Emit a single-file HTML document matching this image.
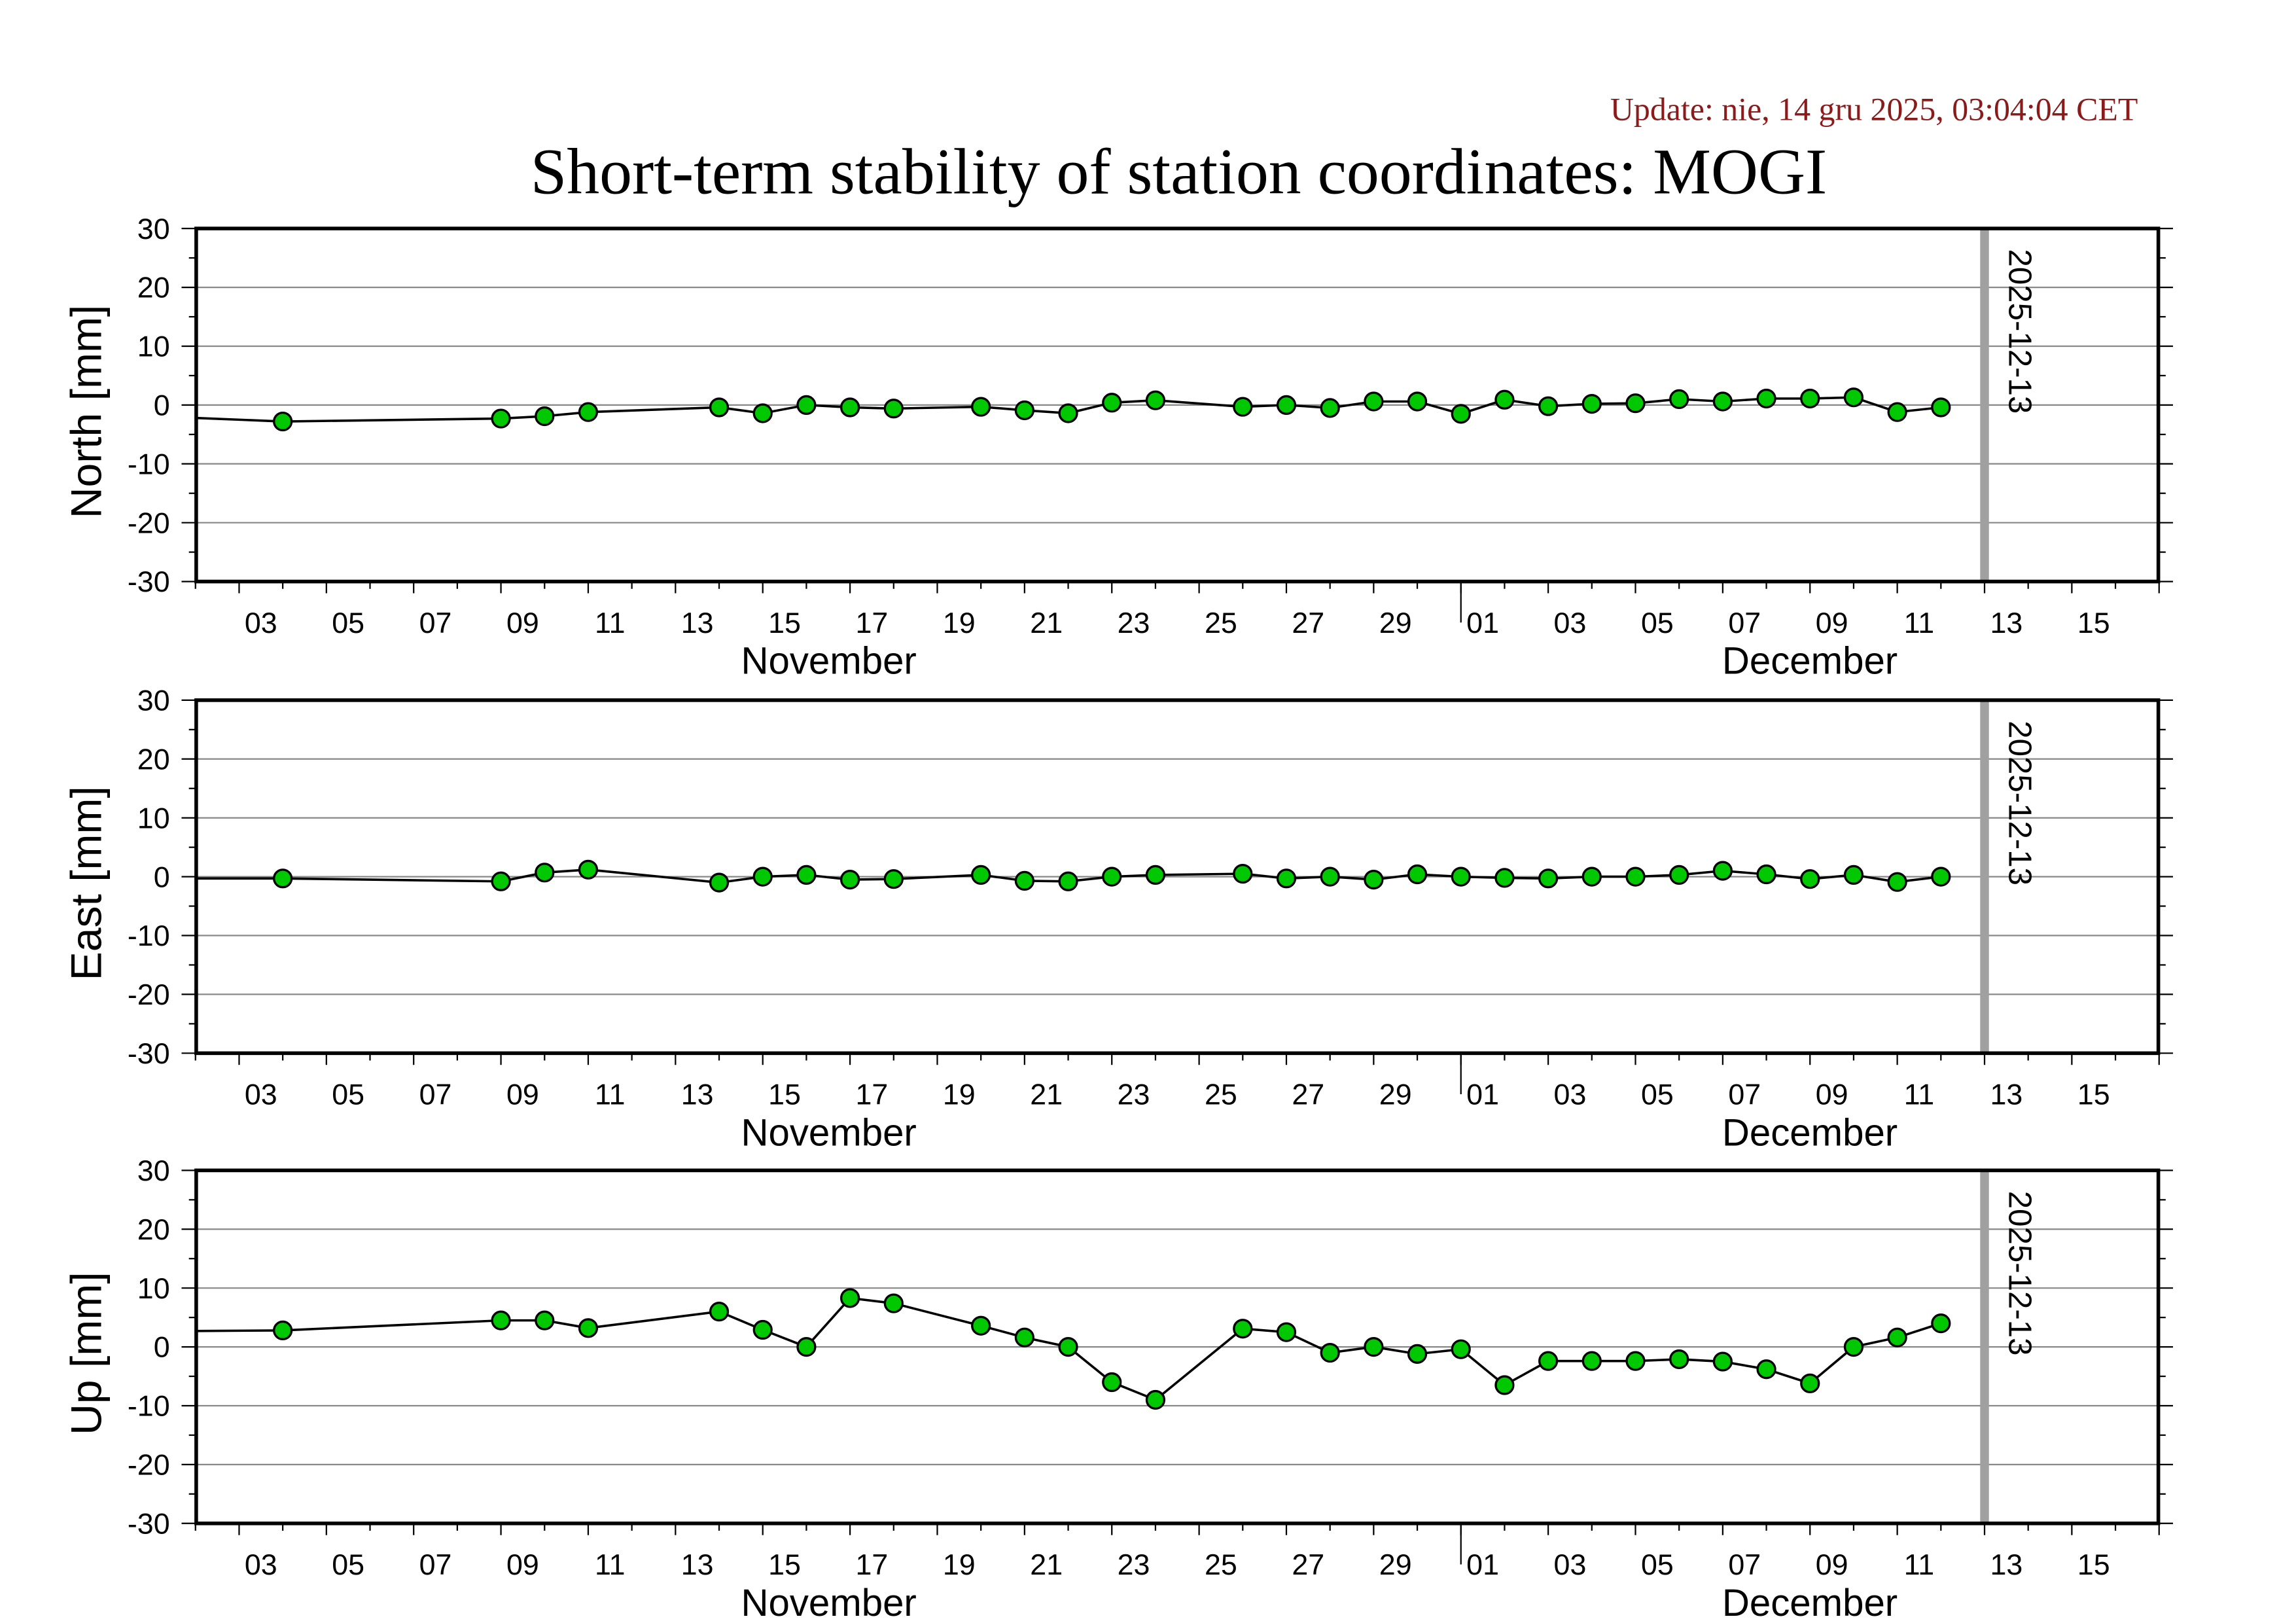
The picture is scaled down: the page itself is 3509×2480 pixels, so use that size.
<!DOCTYPE html>
<html><head><meta charset="utf-8"><style>html,body{margin:0;padding:0;background:#fff}svg{display:block}</style></head>
<body>
<svg id="s" width="3509" height="2480" viewBox="0 0 1568 1108" preserveAspectRatio="none" xmlns="http://www.w3.org/2000/svg" font-family="Liberation Sans, sans-serif">
<rect width="1568" height="1108" fill="#fff"/>
<text x="1460" y="82" text-anchor="end" font-family="Liberation Serif, serif" font-size="22.3" fill="#8b1a1a">Update: nie, 14 gru 2025, 03:04:04 CET</text>
<text x="805" y="132" text-anchor="middle" font-family="Liberation Serif, serif" font-size="44.6">Short-term stability of station coordinates: MOGI</text>
<g id="p0"><text transform="translate(69,281) rotate(-90)" text-anchor="middle" font-size="29.5">North [mm]</text></g>
<g id="p1"><text transform="translate(69,603) rotate(-90)" text-anchor="middle" font-size="29.5">East [mm]</text></g>
<g id="p2"><text transform="translate(69,924) rotate(-90)" text-anchor="middle" font-size="29.5">Up [mm]</text></g>
</svg>
<script>
var NS="http://www.w3.org/2000/svg",S=document.getElementById('s');
function el(t,a,p){var e=document.createElementNS(NS,t);for(var k in a)e.setAttribute(k,a[k]);(p||S).appendChild(e);return e;}
function tx(x,y,s,a,p){var e=el('text',a,p);e.setAttribute('x',x);e.setAttribute('y',y);e.textContent=s;return e;}
var tops=[156,478,799],H=241,L=134,R=1474,dw=29.8,x0=133.5;
function X(d){return x0+d*dw;}
var days=[2,7,8,9,12,13,14,15,16,18,19,20,21,22,24,25,26,27,28,29,30,31,32,33,34,35,36,37,38,39,40];
var data=[
[-2.2,[-2.8,-2.3,-1.9,-1.2,-0.4,-1.4,0,-0.4,-0.6,-0.3,-0.9,-1.4,0.4,0.8,-0.3,0,-0.5,0.6,0.6,-1.5,0.9,-0.2,0.2,0.3,1,0.6,1.1,1.1,1.3,-1.2,-0.4]],
[-0.3,[-0.3,-0.8,0.7,1.2,-1,0,0.3,-0.5,-0.4,0.3,-0.7,-0.8,0,0.3,0.5,-0.3,0,-0.5,0.4,0,-0.2,-0.3,0,0,0.3,1,0.4,-0.4,0.3,-0.9,0]],
[2.7,[2.8,4.5,4.5,3.2,6,2.9,0,8.3,7.4,3.6,1.6,0,-6,-9,3.1,2.5,-1,0,-1.2,-0.4,-6.5,-2.4,-2.4,-2.4,-2.1,-2.5,-3.8,-6.2,0,1.6,4]]];
var labs=['03','05','07','09','11','13','15','17','19','21','23','25','27','29','01','03','05','07','09','11','13','15'];
for(var p=0;p<3;p++){
 var T=tops[p],B=T+H,g=document.getElementById('p'+p);
 function Y(v){return T+H/2-v*H/60;}
 for(var v=-30;v<=30;v+=10){var y=Y(v);
  if(v>-30&&v<30)el('line',{x1:L,x2:R,y1:y,y2:y,stroke:'#888','stroke-width':1},g);
  el('line',{x1:L-10,x2:L,y1:y,y2:y,stroke:'#000','stroke-width':1},g);
  el('line',{x1:R,x2:R+10,y1:y,y2:y,stroke:'#000','stroke-width':1},g);
  tx(116,y+7,String(v),{'text-anchor':'end','font-size':20},g);}
 for(var v=-25;v<=25;v+=10){var y=Y(v);el('line',{x1:L-5,x2:L,y1:y,y2:y,stroke:'#000'},g);el('line',{x1:R,x2:R+5,y1:y,y2:y,stroke:'#000'},g);}
 for(var d=0;d<=45;d++){var x=X(d);el('line',{x1:x,x2:x,y1:B,y2:B+(d%2?8:5),stroke:'#000'},g);}
 el('line',{x1:X(29),x2:X(29),y1:B,y2:B+28,stroke:'#000','stroke-width':1},g);
 for(var i=0;i<labs.length;i++){tx(X(1+2*i)+dw/2,B+35,labs[i],{'text-anchor':'middle','font-size':20},g);}
 tx(566,B+63,'November',{'text-anchor':'middle','font-size':26},g);
 tx(1236,B+63,'December',{'text-anchor':'middle','font-size':26},g);
 el('line',{x1:X(41),x2:X(41),y1:T,y2:B,stroke:'#a0a0a0','stroke-width':6},g);
 tx(0,0,'2025-12-13',{'font-size':22,transform:'translate(1372,'+(T+14)+') rotate(90)'},g);
 var D=data[p],pts=[L+','+Y(D[0])];
 for(var i=0;i<days.length;i++)pts.push(X(days[i])+','+Y(D[1][i]));
 el('polyline',{points:pts.join(' '),fill:'none',stroke:'#000','stroke-width':1.6},g);
 for(var i=0;i<days.length;i++)el('circle',{cx:X(days[i]),cy:Y(D[1][i]),r:6,fill:'#00c800',stroke:'#000','stroke-width':1.5},g);
 el('rect',{x:L,y:T,width:R-L,height:H,fill:'none',stroke:'#000','stroke-width':2.5},g);
}
</script>
</body></html>
